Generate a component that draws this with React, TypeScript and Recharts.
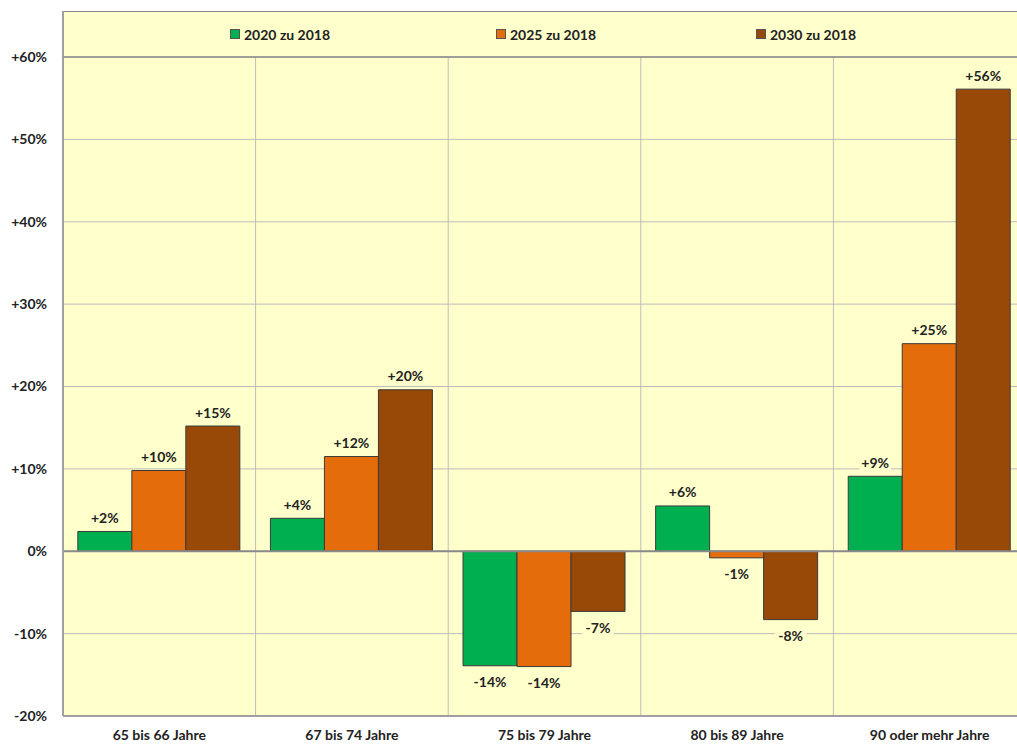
import React from "react";
import { BarChart, Bar, XAxis, YAxis, CartesianGrid, LabelList, ReferenceLine } from "recharts";

const categories = ["65 bis 66 Jahre", "67 bis 74 Jahre", "75 bis 79 Jahre", "80 bis 89 Jahre", "90 oder mehr Jahre"];
const s2020 = [2.4, 4.0, -13.9, 5.5, 9.1];
const s2025 = [9.8, 11.5, -14.0, -0.8, 25.2];
const s2030 = [15.2, 19.6, -7.3, -8.3, 56.1];
const seriesNames = ["2020 zu 2018", "2025 zu 2018", "2030 zu 2018"];
const seriesColors = ["#00B050", "#E46C0A", "#984807"];
const yTicks = [-20, -10, 0, 10, 20, 30, 40, 50, 60];

const data = categories.map((c, i) => ({ cat: c, a: s2020[i], b: s2025[i], c: s2030[i] }));

const FONT = "Lato, 'Open Sans', sans-serif";
const BG = "#FFFFCC";

const fmt = (v: number) => (v > 0 ? "+" : "") + Math.round(v) + "%";

const renderLabel = (props: any) => {
  const { x, y, width, height, value } = props;
  const v = Number(value);
  const text = fmt(v);
  const top = Math.min(y, y + height);
  const bottom = Math.max(y, y + height);
  const cx = x + width / 2;
  const cy = v >= 0 ? top - 14 : bottom + 16;
  const w = text.length * 8.5 + 6;
  return (
    <g>
      <rect x={cx - w / 2} y={cy - 8} width={w} height={16} fill={BG} />
      <text x={cx} y={cy} textAnchor="middle" dominantBaseline="central" fontFamily={FONT} fontWeight={700} fontSize={14} fill="#222">
        {text}
      </text>
    </g>
  );
};

const legendX = [230, 496, 756];

export default function App() {
  const keys = ["a", "b", "c"];
  return (
    <div style={{ position: "absolute", left: 0, top: 0, width: 1017, height: 744, overflow: "hidden", background: "#fff" }}>
      <div style={{ position: "absolute", left: 63, top: 11, width: 963, height: 705, background: BG }} />
      <div style={{ position: "absolute", left: 62, top: 11, width: 964, height: 1, background: "#8a8a8a" }} />
      <div style={{ position: "absolute", left: 62, top: 11, width: 2, height: 46, background: "#a0a0a0" }} />
      {seriesNames.map((n, i) => (
        <div key={n} style={{ position: "absolute", left: legendX[i], top: 26, height: 16, display: "flex", alignItems: "center", fontFamily: FONT, fontWeight: 700, fontSize: 14, color: "#222", whiteSpace: "nowrap" }}>
          <span style={{ display: "inline-block", width: 8, height: 8, background: seriesColors[i], border: "1px solid #555", marginRight: 4 }} />
          {n}
        </div>
      ))}
      <div style={{ position: "absolute", left: 0, top: 0 }}>
        <BarChart width={1026} height={744} data={data} margin={{ top: 57, right: 0, bottom: 0, left: 0 }} barCategoryGap="7.7%" barGap={0}>
          <CartesianGrid
            stroke="#bdbdbd"
            strokeWidth={1}
            verticalCoordinatesGenerator={({ offset }: any) =>
              [1, 2, 3, 4].map((i) => offset.left + (i * offset.width) / 5)
            }
          />
          <XAxis dataKey="cat" height={28} tickLine={false} axisLine={{ stroke: "#a0a0a0", strokeWidth: 2 }} tick={{ fontFamily: FONT, fontWeight: 700, fontSize: 14, fill: "#222" }} tickMargin={8} interval={0} />
          <YAxis
            width={63}
            domain={[-20, 60]}
            ticks={yTicks}
            tickFormatter={(v: number) => fmt(v)}
            tickLine={false}
            tickSize={0}
            tickMargin={16}
            axisLine={{ stroke: "#a0a0a0", strokeWidth: 2 }}
            tick={{ fontFamily: FONT, fontWeight: 700, fontSize: 14, fill: "#222" }}
            allowDataOverflow
          />
          <ReferenceLine y={60} stroke="#8a8a8a" strokeWidth={1.5} />
          <ReferenceLine y={0} stroke="#8a8a8a" strokeWidth={2} />
          {keys.map((k, i) => (
            <Bar key={k} dataKey={k} name={seriesNames[i]} fill={seriesColors[i]} stroke="#3a3a3a" strokeWidth={1} isAnimationActive={false}>
              <LabelList dataKey={k} content={renderLabel} />
            </Bar>
          ))}
        </BarChart>
      </div>
    </div>
  );
}
